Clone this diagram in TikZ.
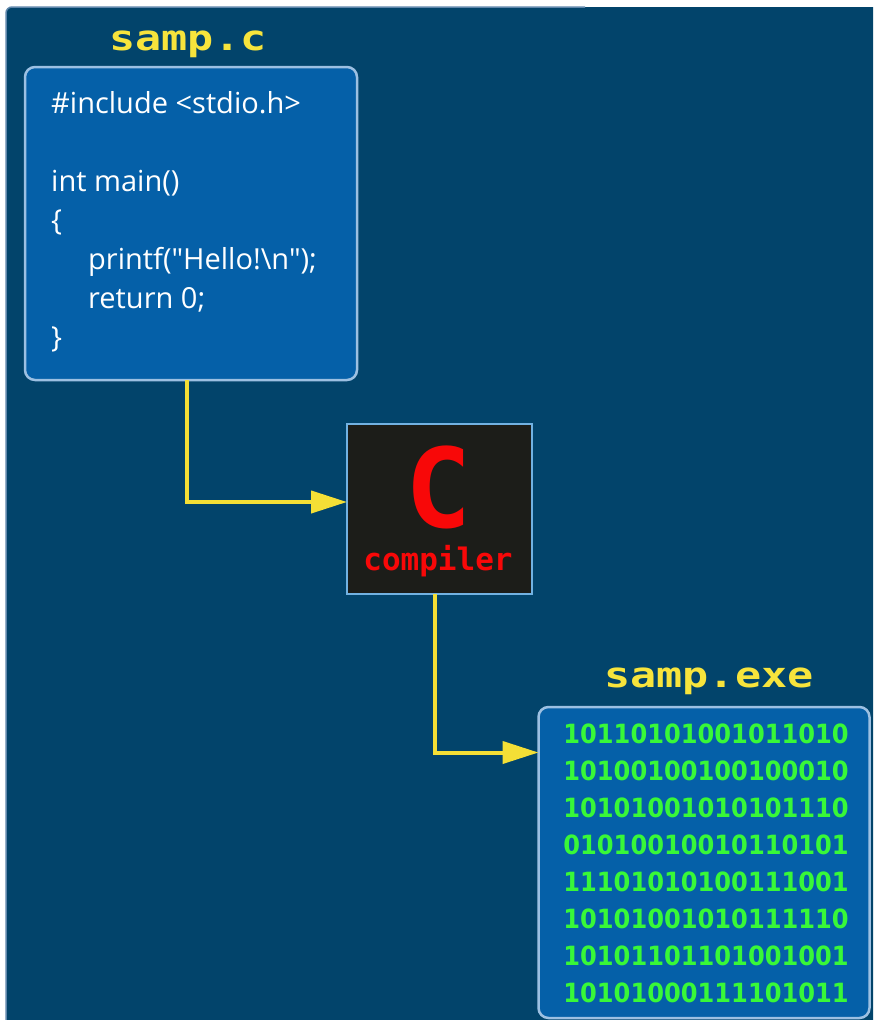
\documentclass[tikz,border=0pt]{standalone}
\usepackage{fontspec}
\setmainfont{Open Sans}[Ligatures=TeXOff]
\newfontfamily\blockfont{DejaVu Sans Mono}
\newfontfamily\digitfont{DejaVu Sans}
\usetikzlibrary{arrows.meta}

\definecolor{bgblue}{HTML}{02446B}
\definecolor{edgeblue}{HTML}{5F87AC}
\definecolor{boxblue}{HTML}{0560A8}
\definecolor{boxrim}{HTML}{9CC0E2}
\definecolor{chipblack}{HTML}{1C1D19}
\definecolor{chiprim}{HTML}{72B2E2}
\definecolor{titleyellow}{HTML}{F7E43C}
\definecolor{flowyellow}{HTML}{F4DF36}
\definecolor{chipred}{HTML}{F80808}
\definecolor{bitgreen}{HTML}{38F838}

\tikzset{
  filebox/.style={draw=boxrim, line width=2.5pt, fill=boxblue, rounded corners=10pt,
    inner sep=0pt, outer sep=0pt},
  chipbox/.style={draw=chiprim, line width=2pt, fill=chipblack, inner sep=0pt, outer sep=0pt},
  filetitle/.style={text=titleyellow, inner sep=0pt, anchor=base,
    font=\blockfont\bfseries\fontsize{35}{35}\selectfont},
  codeline/.style={text=white, inner sep=0pt, anchor=base west,
    font=\fontsize{29}{29}\selectfont},
  bitline/.style={text=bitgreen, inner sep=0pt, anchor=base,
    font=\digitfont\bfseries\fontsize{26.5}{26.5}\selectfont},
  flow/.style={draw=flowyellow, line width=4pt,
    -{Triangle[length=36pt, width=22pt]}},
}

\begin{document}
\begin{tikzpicture}[x=1pt, y=-1pt]
\useasboundingbox (0,0) rectangle (873,1020);
\fill[white] (0,0) rectangle (873,1020);

% backdrop panel
\fill[bgblue] (6,1020) [rounded corners=6pt] -- (6,7) [sharp corners] -- (873,7) -- (873,1020) -- cycle;
\draw[edgeblue, line width=1.5pt] (6,1020) [rounded corners=6pt] -- (6,7) -- (585,7);

% source file
\node[filetitle] (srctitle) at (188,50) {\scalebox{1.24}[1]{samp.c}};
\node[filebox, minimum width=332pt, minimum height=313pt] (src) at (191,223.5) {};
\node[codeline] (l1) at (51,113) {\#include <stdio.h>};
\node[codeline] (l2) at (51,191) {int main()};
\node[codeline] (l3) at (51,230) {\{};
\node[codeline] (l4) at (88,269) {printf("Hello!\textbackslash n");};
\node[codeline] (l5) at (88,308) {return 0;};
\node[codeline] (l6) at (51,347) {\}};

% compiler
\node[chipbox, minimum width=185pt, minimum height=170pt] (cc) at (439.5,509) {};
\node[text=chipred, inner sep=0pt, anchor=base,
  font=\blockfont\bfseries\fontsize{110}{110}\selectfont] (ccletter) at (439,527) {C};
\node[text=chipred, inner sep=0pt, anchor=base,
  font=\blockfont\bfseries\fontsize{31}{31}\selectfont] (ccword) at (438,570) {compiler};

% executable
\node[filetitle] (exetitle) at (709,687) {\scalebox{1.24}[1]{samp.exe}};
\node[filebox, minimum width=331pt, minimum height=311pt] (exe) at (704,862.5) {};
\foreach \bits [count=\i] in {10110101001011010,10100100100100010,10101001010101110,
  01010010010110101,11101010100111001,10101001010111110,10101101101001001,10101000111101011}
  \node[bitline] (bits\i) at (706,706+37*\i) {\scalebox{0.91}[1]{\bits}};

% flow of the build
\draw[flow] ([xshift=-4pt]src.south) |- ([yshift=7pt]cc.west);
\draw[flow] ([xshift=-4.5pt]cc.south) |- ([yshift=110pt]exe.west);
\end{tikzpicture}
\end{document}
